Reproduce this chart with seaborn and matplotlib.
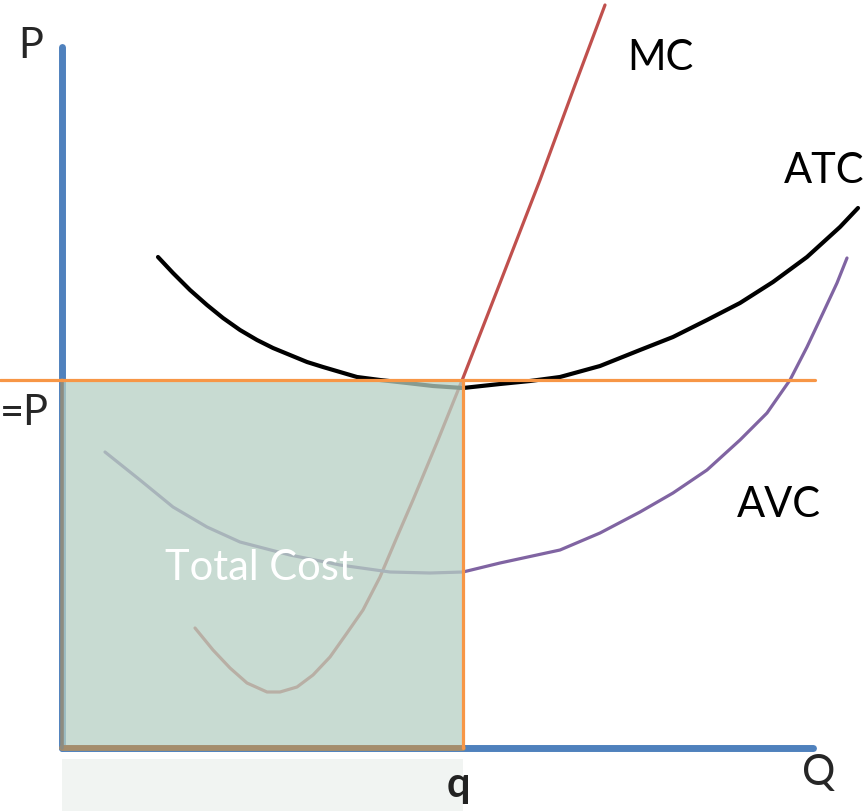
import matplotlib
matplotlib.use("Agg")
import matplotlib.pyplot as plt
import seaborn as sns
import pandas as pd
from matplotlib.patches import Rectangle

# ---- data (quantity Q, price P) ----
mc_q = [133, 151, 168, 185, 205, 218, 235, 251, 268, 285, 301, 318, 335, 351, 376, 401,
        438, 478, 513, 543]
mc_p = [120, 98, 80, 65, 56, 56, 61, 73, 91, 115, 138, 171, 211, 248, 308, 370,
        465, 568, 663, 743]

atc_q = [96, 111, 128, 145, 161, 178, 195, 211, 228, 245, 261, 278, 295, 318, 345, 371, 401,
         438, 468, 498, 538, 578, 611, 645, 678, 711, 745, 778, 796]
atc_p = [491, 475, 458, 443, 430, 418, 408, 400, 393, 386, 381, 376, 371, 368, 365, 362, 360,
         364, 367, 371, 382, 398, 411, 428, 445, 466, 491, 521, 540]

avc_q = [43, 78, 111, 145, 178, 228, 278, 328, 368, 401, 438, 498, 538, 578, 611, 645, 678,
         705, 728, 745, 761, 775, 785]
avc_p = [296, 268, 241, 221, 206, 193, 183, 176, 175, 176, 185, 198, 215, 236, 255, 278, 308,
         335, 368, 401, 435, 465, 490]

price_level = 368      # MR = P
q_star = 401           # chosen quantity q
p_axis_top = 701
q_axis_end = 751
price_line_end = 753

labels = {"MC": (565, 678), "ATC": (722, 565), "AVC": (675, 231)}

BLUE = "#4F81BD"
ORANGE = "#F79646"
RED = "#C0504D"
PURPLE = "#8064A2"

sns.set_style("white")
plt.rcParams["font.family"] = ["Lato", "DejaVu Sans"]

fig = plt.figure(figsize=(8.65, 8.11), dpi=100)
ax = fig.add_axes([0, 0, 1, 1])
ax.set_xlim(-62, 803)
ax.set_ylim(-63, 748)
ax.axis("off")

# faint reflection under the box
ax.add_patch(Rectangle((0, -63), q_star, 52, facecolor="#F1F4F2", edgecolor="none", zorder=0))

# axes
sns.lineplot(x=[0, 0], y=[0, p_axis_top], color=BLUE, lw=5, ax=ax, estimator=None, sort=False)
sns.lineplot(x=[0, q_axis_end], y=[0, 0], color=BLUE, lw=5, ax=ax, estimator=None, sort=False)

# curves
mc = pd.DataFrame({"Q": mc_q, "P": mc_p})
atc = pd.DataFrame({"Q": atc_q, "P": atc_p})
avc = pd.DataFrame({"Q": avc_q, "P": avc_p})
kw = dict(sort=False, estimator=None, ax=ax, solid_joinstyle="round")
sns.lineplot(data=mc, x="Q", y="P", color=RED, lw=2.3, **kw)
sns.lineplot(data=atc, x="Q", y="P", color="black", lw=3.0, **kw)
sns.lineplot(data=avc, x="Q", y="P", color=PURPLE, lw=2.3, **kw)

# total cost box
ax.add_patch(Rectangle((0, 0), q_star, price_level, facecolor="#B6D0C3", alpha=0.75,
                       edgecolor="none", zorder=5))
sns.lineplot(x=[0, q_star], y=[0, 0], color="#A58D6C", lw=4.2,
             ax=ax, estimator=None, sort=False, zorder=6)
sns.lineplot(x=[0, 0], y=[0, price_level], color="#8E8C80", lw=2.6,
             ax=ax, estimator=None, sort=False, zorder=6)
sns.lineplot(x=[-62, price_line_end], y=[price_level, price_level], color=ORANGE, lw=2.3,
             ax=ax, estimator=None, sort=False, zorder=7)
sns.lineplot(x=[q_star, q_star], y=[0, price_level], color=ORANGE, lw=2.3,
             ax=ax, estimator=None, sort=False, zorder=7)

fs = 30
for name, (x, y) in labels.items():
    ax.text(x, y, name, fontsize=fs, color="black", ha="left", va="baseline", zorder=10)
ax.text(-44, 690, "P", fontsize=fs, ha="left", va="baseline", zorder=10)
ax.text(740, -37, "Q", fontsize=fs, ha="left", va="baseline", zorder=10)
ax.text(-62, 323, "=P", fontsize=fs, ha="left", va="baseline", zorder=10)
ax.text(396, -49, "q", fontsize=fs, fontweight="bold", color="#222222", ha="center",
        va="baseline", zorder=10)
ax.text(103, 168, "Total Cost", fontsize=fs, color="white", ha="left", va="baseline", zorder=10)

fig.savefig("out.png", dpi=100)
